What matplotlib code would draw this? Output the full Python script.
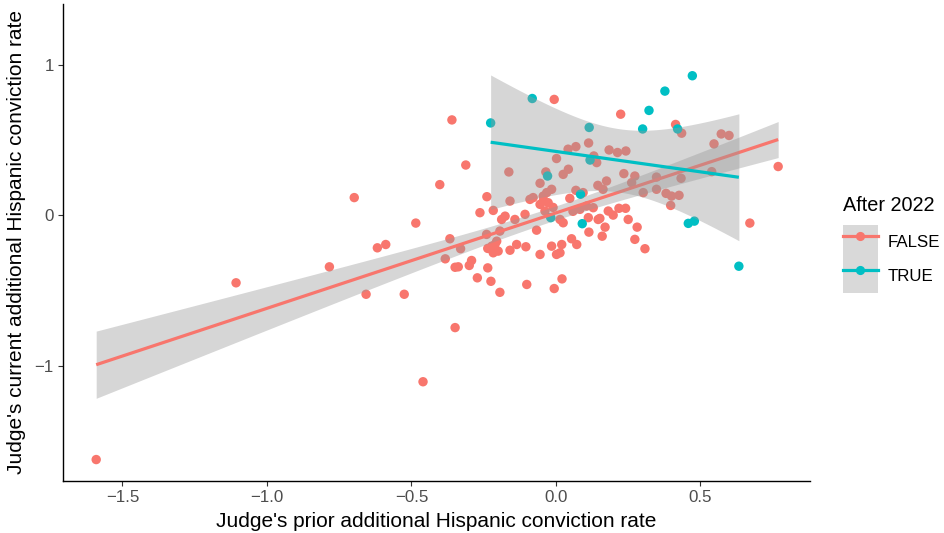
"""Judge prior vs current additional Hispanic conviction rate, split by After 2022."""

import math
import matplotlib
matplotlib.use("Agg")
import matplotlib.pyplot as plt
from matplotlib.patches import Patch
from matplotlib.lines import Line2D
import numpy as np

plt.rcParams["font.family"] = ["Liberation Sans", "DejaVu Sans"]

# FALSE group (before 2022)
false_x = [-1.591, -1.107, -0.784, -0.698, -0.657, -0.618, -0.589, -0.525, -0.485, -0.460,
           -0.402, -0.360, -0.349, -0.312, -0.383, -0.367, -0.349, -0.338, -0.330, -0.292,
           -0.300, -0.272, -0.263, -0.240, -0.239, -0.236, -0.225, -0.217, -0.205, -0.211,
           -0.222, -0.236, -0.217, -0.200, -0.194, -0.194, -0.188, -0.176, -0.163, -0.159,
           -0.159, -0.142, -0.136, -0.107, -0.104, -0.101, -0.090, -0.079, -0.067, -0.055,
           -0.055, -0.044, -0.032, -0.015, -0.044, -0.027, -0.055, -0.038, -0.035, -0.015,
           -0.006, -0.006, 0.002, 0.014, 0.025, 0.020, 0.014, 0.002, 0.021, 0.025,
           0.043, 0.042, 0.048, 0.054, 0.072, 0.069, 0.069, 0.094, 0.083, 0.106,
           0.129, 0.112, 0.114, 0.113, 0.131, 0.141, 0.145, 0.163, 0.175, 0.146,
           0.160, 0.170, 0.152, 0.181, 0.198, 0.218, 0.241, 0.250, 0.281, 0.273,
           0.308, 0.184, 0.213, 0.242, 0.224, 0.235, 0.273, 0.262, 0.302, 0.348,
           0.348, 0.381, 0.400, 0.426, 0.397, 0.433, 0.414, 0.435, 0.539, 0.547,
           0.572, 0.599, 0.671, 0.769, -0.010, 0.059]
false_y = [-1.619, -0.447, -0.341, 0.118, -0.523, -0.215, -0.193, -0.523, -0.051, -1.103,
           0.204, 0.633, -0.744, 0.334, -0.288, -0.155, -0.344, -0.341, -0.221, -0.299,
           -0.332, -0.414, 0.018, -0.126, 0.124, -0.348, -0.437, 0.033, -0.171, -0.193,
           -0.204, -0.219, -0.248, -0.237, -0.510, -0.104, -0.027, -0.005, 0.288, 0.095,
           -0.231, -0.027, -0.193, 0.007, -0.208, -0.458, 0.106, 0.118, -0.098, -0.259,
           0.213, 0.128, 0.151, 0.173, 0.095, 0.084, 0.073, 0.029, 0.288, -0.204,
           -0.485, 0.769, 0.377, -0.027, -0.049, -0.193, -0.248, -0.259, -0.421, 0.272,
           0.306, 0.439, 0.113, -0.155, -0.193, 0.456, 0.166, 0.151, 0.040, 0.062,
           0.051, -0.015, -0.111, 0.480, 0.394, 0.350, 0.199, 0.173, 0.228, -0.027,
           -0.138, -0.078, -0.020, 0.029, 0.002, 0.047, 0.047, -0.027, -0.078, -0.159,
           -0.221, 0.434, 0.417, 0.427, 0.671, 0.277, 0.261, 0.217, 0.151, 0.254,
           0.173, 0.146, 0.128, 0.133, 0.066, 0.246, 0.603, 0.545, 0.290, 0.474,
           0.540, 0.530, -0.051, 0.324, 0.053, 0.027]

# TRUE group (after 2022)
true_x = [-0.226, -0.082, -0.029, -0.018, 0.085, 0.091, 0.115, 0.118,
          0.300, 0.322, 0.377, 0.472, 0.421, 0.458, 0.479, 0.633]
true_y = [0.613, 0.775, 0.261, -0.015, 0.140, -0.055, 0.583, 0.367,
          0.573, 0.696, 0.824, 0.926, 0.573, -0.053, -0.038, -0.337]

groups = ["FALSE", "TRUE"]
colors = {"FALSE": "#F8766D", "TRUE": "#00BFC4"}


def t_ppf975(df):
    # 97.5% quantile of Student t by integrating the density
    grid = np.linspace(0, 12, 240001)
    c = math.exp(math.lgamma((df + 1) / 2) - math.lgamma(df / 2)) / math.sqrt(df * math.pi)
    pdf = c * (1 + grid ** 2 / df) ** (-(df + 1) / 2)
    cdf = 0.5 + np.concatenate([[0], np.cumsum((pdf[1:] + pdf[:-1]) / 2 * np.diff(grid))])
    return float(np.interp(0.975, cdf, grid))


def lm_band(x, y, n_out=80):
    x = np.asarray(x)
    y = np.asarray(y)
    n = len(x)
    b, a = np.polyfit(x, y, 1)
    resid = y - (a + b * x)
    s = math.sqrt(np.sum(resid ** 2) / (n - 2))
    xbar = x.mean()
    sxx = np.sum((x - xbar) ** 2)
    xs = np.linspace(x.min(), x.max(), n_out)
    fit = a + b * xs
    se = s * np.sqrt(1 / n + (xs - xbar) ** 2 / sxx)
    t = t_ppf975(n - 2)
    return xs, fit, fit - t * se, fit + t * se


fig = plt.figure(figsize=(9.44, 5.33), dpi=100)
ax = fig.add_axes([0.0667, 0.0976, 0.7913, 0.895])

data = {"FALSE": (false_x, false_y), "TRUE": (true_x, true_y)}
for g in groups:
    gx, gy = data[g]
    ax.scatter(gx, gy, s=46, color=colors[g], edgecolors="none", zorder=2)

for g in groups:
    gx, gy = data[g]
    xs, fit, lo, hi = lm_band(gx, gy)
    ax.fill_between(xs, lo, hi, color="#999999", alpha=0.4, linewidth=0, zorder=3)
    ax.plot(xs, fit, color=colors[g], linewidth=2.3, zorder=3, solid_capstyle="butt")

ax.set_xlim(-1.706, 0.879)
ax.set_ylim(-1.761, 1.402)
ax.set_xticks([-1.5, -1.0, -0.5, 0.0, 0.5])
ax.set_xticklabels(["\u22121.5", "\u22121.0", "\u22120.5", "0.0", "0.5"])
ax.set_yticks([-1, 0, 1])
ax.set_yticklabels(["\u22121", "0", "1"])
ax.tick_params(axis="both", labelsize=12.2, labelcolor="#4D4D4D", color="#333333",
               length=3.5, width=0.8, pad=3)
for side in ["top", "right"]:
    ax.spines[side].set_visible(False)
for side in ["left", "bottom"]:
    ax.spines[side].set_linewidth(1.0)
    ax.spines[side].set_color("black")

ax.set_xlabel("Judge's prior additional Hispanic conviction rate", fontsize=15, labelpad=5)
ax.set_ylabel("Judge's current additional Hispanic conviction rate", fontsize=15, labelpad=6)

handles = []
for g in groups:
    handles.append((Patch(facecolor="#D9D9D9", edgecolor="none"),
                    Line2D([], [], color=colors[g], linewidth=2.3, marker="o",
                           markersize=6.6, markeredgewidth=0)))
leg = fig.legend(handles, groups, loc="center left", bbox_to_anchor=(0.893, 0.541),
                 frameon=False, fontsize=12.2, title="After 2022", title_fontsize=14.3,
                 labelspacing=0, handleheight=2.75, handlelength=2.05, handletextpad=0.6,
                 borderpad=0, borderaxespad=0, alignment="left")
leg._legend_box.sep = 7

fig.savefig("out.png", dpi=100)
